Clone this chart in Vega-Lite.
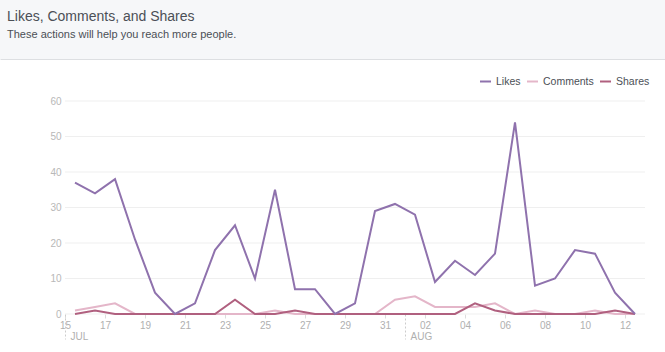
{
  "$schema": "https://vega.github.io/schema/vega-lite/v6.json",
  "padding": 0,
  "background": "white",
  "spacing": 37,
  "bounds": "full",
  "config": {"font": "Liberation Sans", "view": {"stroke": null}},
  "vconcat": [
    {
      "width": 665,
      "height": 59,
      "view": {"fill": "#f6f7f9", "stroke": null},
      "title": {
        "text": "Likes, Comments, and Shares",
        "subtitle": "These actions will help you reach more people.",
        "anchor": "start",
        "frame": "group",
        "orient": "top",
        "offset": -40,
        "dx": 7,
        "font": "Liberation Sans",
        "fontSize": 14,
        "fontWeight": "normal",
        "color": "#4b4f56",
        "subtitleFont": "Liberation Sans",
        "subtitleFontSize": 11,
        "subtitleColor": "#4b4f56",
        "subtitlePadding": 5
      },
      "data": {"values": [{"t": 0}]},
      "mark": {"type": "point", "opacity": 0},
      "encoding": {
        "x": {
          "field": "t",
          "type": "quantitative",
          "axis": {"labels": false, "ticks": false, "grid": false, "title": null, "domain": true, "domainColor": "#dddfe2", "domainWidth": 1}
        }
      }
    },
    {
      "width": 665,
      "height": 213,
      "data": {
        "values": [
          {"date": "2014-07-15T12:00:00Z", "metric": "Comments", "value": 1},
          {"date": "2014-07-16T12:00:00Z", "metric": "Comments", "value": 2},
          {"date": "2014-07-17T12:00:00Z", "metric": "Comments", "value": 3},
          {"date": "2014-07-18T12:00:00Z", "metric": "Comments", "value": 0},
          {"date": "2014-07-19T12:00:00Z", "metric": "Comments", "value": 0},
          {"date": "2014-07-20T12:00:00Z", "metric": "Comments", "value": 0},
          {"date": "2014-07-21T12:00:00Z", "metric": "Comments", "value": 0},
          {"date": "2014-07-22T12:00:00Z", "metric": "Comments", "value": 0},
          {"date": "2014-07-23T12:00:00Z", "metric": "Comments", "value": 0},
          {"date": "2014-07-24T12:00:00Z", "metric": "Comments", "value": 0},
          {"date": "2014-07-25T12:00:00Z", "metric": "Comments", "value": 1},
          {"date": "2014-07-26T12:00:00Z", "metric": "Comments", "value": 0},
          {"date": "2014-07-27T12:00:00Z", "metric": "Comments", "value": 0},
          {"date": "2014-07-28T12:00:00Z", "metric": "Comments", "value": 0},
          {"date": "2014-07-29T12:00:00Z", "metric": "Comments", "value": 0},
          {"date": "2014-07-30T12:00:00Z", "metric": "Comments", "value": 0},
          {"date": "2014-07-31T12:00:00Z", "metric": "Comments", "value": 4},
          {"date": "2014-08-01T12:00:00Z", "metric": "Comments", "value": 5},
          {"date": "2014-08-02T12:00:00Z", "metric": "Comments", "value": 2},
          {"date": "2014-08-03T12:00:00Z", "metric": "Comments", "value": 2},
          {"date": "2014-08-04T12:00:00Z", "metric": "Comments", "value": 2},
          {"date": "2014-08-05T12:00:00Z", "metric": "Comments", "value": 3},
          {"date": "2014-08-06T12:00:00Z", "metric": "Comments", "value": 0},
          {"date": "2014-08-07T12:00:00Z", "metric": "Comments", "value": 1},
          {"date": "2014-08-08T12:00:00Z", "metric": "Comments", "value": 0},
          {"date": "2014-08-09T12:00:00Z", "metric": "Comments", "value": 0},
          {"date": "2014-08-10T12:00:00Z", "metric": "Comments", "value": 1},
          {"date": "2014-08-11T12:00:00Z", "metric": "Comments", "value": 0},
          {"date": "2014-08-12T12:00:00Z", "metric": "Comments", "value": 0},
          {"date": "2014-07-15T12:00:00Z", "metric": "Shares", "value": 0},
          {"date": "2014-07-16T12:00:00Z", "metric": "Shares", "value": 1},
          {"date": "2014-07-17T12:00:00Z", "metric": "Shares", "value": 0},
          {"date": "2014-07-18T12:00:00Z", "metric": "Shares", "value": 0},
          {"date": "2014-07-19T12:00:00Z", "metric": "Shares", "value": 0},
          {"date": "2014-07-20T12:00:00Z", "metric": "Shares", "value": 0},
          {"date": "2014-07-21T12:00:00Z", "metric": "Shares", "value": 0},
          {"date": "2014-07-22T12:00:00Z", "metric": "Shares", "value": 0},
          {"date": "2014-07-23T12:00:00Z", "metric": "Shares", "value": 4},
          {"date": "2014-07-24T12:00:00Z", "metric": "Shares", "value": 0},
          {"date": "2014-07-25T12:00:00Z", "metric": "Shares", "value": 0},
          {"date": "2014-07-26T12:00:00Z", "metric": "Shares", "value": 1},
          {"date": "2014-07-27T12:00:00Z", "metric": "Shares", "value": 0},
          {"date": "2014-07-28T12:00:00Z", "metric": "Shares", "value": 0},
          {"date": "2014-07-29T12:00:00Z", "metric": "Shares", "value": 0},
          {"date": "2014-07-30T12:00:00Z", "metric": "Shares", "value": 0},
          {"date": "2014-07-31T12:00:00Z", "metric": "Shares", "value": 0},
          {"date": "2014-08-01T12:00:00Z", "metric": "Shares", "value": 0},
          {"date": "2014-08-02T12:00:00Z", "metric": "Shares", "value": 0},
          {"date": "2014-08-03T12:00:00Z", "metric": "Shares", "value": 0},
          {"date": "2014-08-04T12:00:00Z", "metric": "Shares", "value": 3},
          {"date": "2014-08-05T12:00:00Z", "metric": "Shares", "value": 1},
          {"date": "2014-08-06T12:00:00Z", "metric": "Shares", "value": 0},
          {"date": "2014-08-07T12:00:00Z", "metric": "Shares", "value": 0},
          {"date": "2014-08-08T12:00:00Z", "metric": "Shares", "value": 0},
          {"date": "2014-08-09T12:00:00Z", "metric": "Shares", "value": 0},
          {"date": "2014-08-10T12:00:00Z", "metric": "Shares", "value": 0},
          {"date": "2014-08-11T12:00:00Z", "metric": "Shares", "value": 1},
          {"date": "2014-08-12T12:00:00Z", "metric": "Shares", "value": 0},
          {"date": "2014-07-15T12:00:00Z", "metric": "Likes", "value": 37},
          {"date": "2014-07-16T12:00:00Z", "metric": "Likes", "value": 34},
          {"date": "2014-07-17T12:00:00Z", "metric": "Likes", "value": 38},
          {"date": "2014-07-18T12:00:00Z", "metric": "Likes", "value": 21},
          {"date": "2014-07-19T12:00:00Z", "metric": "Likes", "value": 6},
          {"date": "2014-07-20T12:00:00Z", "metric": "Likes", "value": 0},
          {"date": "2014-07-21T12:00:00Z", "metric": "Likes", "value": 3},
          {"date": "2014-07-22T12:00:00Z", "metric": "Likes", "value": 18},
          {"date": "2014-07-23T12:00:00Z", "metric": "Likes", "value": 25},
          {"date": "2014-07-24T12:00:00Z", "metric": "Likes", "value": 10},
          {"date": "2014-07-25T12:00:00Z", "metric": "Likes", "value": 35},
          {"date": "2014-07-26T12:00:00Z", "metric": "Likes", "value": 7},
          {"date": "2014-07-27T12:00:00Z", "metric": "Likes", "value": 7},
          {"date": "2014-07-28T12:00:00Z", "metric": "Likes", "value": 0},
          {"date": "2014-07-29T12:00:00Z", "metric": "Likes", "value": 3},
          {"date": "2014-07-30T12:00:00Z", "metric": "Likes", "value": 29},
          {"date": "2014-07-31T12:00:00Z", "metric": "Likes", "value": 31},
          {"date": "2014-08-01T12:00:00Z", "metric": "Likes", "value": 28},
          {"date": "2014-08-02T12:00:00Z", "metric": "Likes", "value": 9},
          {"date": "2014-08-03T12:00:00Z", "metric": "Likes", "value": 15},
          {"date": "2014-08-04T12:00:00Z", "metric": "Likes", "value": 11},
          {"date": "2014-08-05T12:00:00Z", "metric": "Likes", "value": 17},
          {"date": "2014-08-06T12:00:00Z", "metric": "Likes", "value": 54},
          {"date": "2014-08-07T12:00:00Z", "metric": "Likes", "value": 8},
          {"date": "2014-08-08T12:00:00Z", "metric": "Likes", "value": 10},
          {"date": "2014-08-09T12:00:00Z", "metric": "Likes", "value": 18},
          {"date": "2014-08-10T12:00:00Z", "metric": "Likes", "value": 17},
          {"date": "2014-08-11T12:00:00Z", "metric": "Likes", "value": 6},
          {"date": "2014-08-12T12:00:00Z", "metric": "Likes", "value": 0}
        ]
      },
      "layer": [
        {
          "data": {"values": [{"g": 0}, {"g": 10}, {"g": 20}, {"g": 30}, {"g": 40}, {"g": 50}, {"g": 60}]},
          "mark": {"type": "rule", "color": "#efefef", "strokeWidth": 1},
          "encoding": {
            "x": {"datum": {"year": 2014, "month": 7, "date": 15, "utc": true}, "type": "temporal", "axis": null},
            "x2": {"datum": {"year": 2014, "month": 8, "date": 13, "utc": true}},
            "y": {
              "field": "g",
              "type": "quantitative",
              "scale": {"domain": [0, 60], "nice": false},
              "axis": {
                "title": null,
                "values": [0, 10, 20, 30, 40, 50, 60],
                "tickCount": 7,
                "grid": false,
                "domain": false,
                "ticks": false,
                "offset": -65,
                "labelOverlap": false,
                "labelColor": "#b8b8b8",
                "labelFontSize": 10,
                "labelPadding": 4
              }
            }
          }
        },
        {
          "mark": {"type": "line", "strokeWidth": 2, "interpolate": "linear"},
          "encoding": {
            "x": {
              "field": "date",
              "type": "temporal",
              "scale": {
                "type": "utc",
                "domain": [
                  {"year": 2014, "month": 7, "date": 15, "utc": true},
                  {"year": 2014, "month": 8, "date": 13, "utc": true}
                ],
                "range": [65, 645],
                "nice": false
              },
              "axis": {
                "orient": "bottom",
                "title": null,
                "values": [
                  {"year": 2014, "month": 7, "date": 15, "utc": true},
                  {"year": 2014, "month": 7, "date": 17, "utc": true},
                  {"year": 2014, "month": 7, "date": 19, "utc": true},
                  {"year": 2014, "month": 7, "date": 21, "utc": true},
                  {"year": 2014, "month": 7, "date": 23, "utc": true},
                  {"year": 2014, "month": 7, "date": 25, "utc": true},
                  {"year": 2014, "month": 7, "date": 27, "utc": true},
                  {"year": 2014, "month": 7, "date": 29, "utc": true},
                  {"year": 2014, "month": 7, "date": 31, "utc": true},
                  {"year": 2014, "month": 8, "date": 2, "utc": true},
                  {"year": 2014, "month": 8, "date": 4, "utc": true},
                  {"year": 2014, "month": 8, "date": 6, "utc": true},
                  {"year": 2014, "month": 8, "date": 8, "utc": true},
                  {"year": 2014, "month": 8, "date": 10, "utc": true},
                  {"year": 2014, "month": 8, "date": 12, "utc": true}
                ],
                "labelExpr": "utcFormat(datum.value, '%d')",
                "labelFlush": false,
                "labelOverlap": false,
                "labelColor": "#b0b0b0",
                "labelFontSize": 10,
                "labelPadding": 2,
                "domain": false,
                "grid": false,
                "ticks": true,
                "tickSize": 4,
                "tickColor": "#dddddd"
              }
            },
            "y": {
              "field": "value",
              "type": "quantitative",
              "scale": {"domain": [0, 60], "nice": false},
              "axis": {
                "title": null,
                "values": [0, 10, 20, 30, 40, 50, 60],
                "tickCount": 7,
                "grid": false,
                "domain": false,
                "ticks": false,
                "offset": -65,
                "labelOverlap": false,
                "labelColor": "#b8b8b8",
                "labelFontSize": 10,
                "labelPadding": 4
              }
            },
            "color": {
              "field": "metric",
              "type": "nominal",
              "scale": {"domain": ["Likes", "Comments", "Shares"], "range": ["#8f72ad", "#e4b6c9", "#b0607f"]},
              "legend": {
                "orient": "none",
                "legendX": 479,
                "legendY": 75,
                "direction": "horizontal",
                "title": null,
                "symbolType": "stroke",
                "symbolStrokeWidth": 2,
                "symbolSize": 121,
                "labelFontSize": 10.5,
                "labelColor": "#4b4f56",
                "labelOffset": 4,
                "columnPadding": 2
              }
            }
          }
        },
        {
          "mark": {"type": "point", "opacity": 0},
          "encoding": {
            "x": {
              "field": "date",
              "type": "temporal",
              "axis": {
                "orient": "bottom",
                "title": null,
                "values": [
                  {"year": 2014, "month": 7, "date": 15, "utc": true},
                  {"year": 2014, "month": 8, "date": 1, "utc": true}
                ],
                "labelExpr": "upper(utcFormat(datum.value, '%b'))",
                "labelAlign": "left",
                "labelOffset": 5,
                "labelFlush": false,
                "labelOverlap": false,
                "labelColor": "#b0b0b0",
                "labelFontSize": 10,
                "labelPadding": -8,
                "domain": false,
                "grid": false,
                "ticks": true,
                "tickSize": 25,
                "tickDash": [2, 2],
                "tickColor": "#cccccc"
              }
            },
            "y": {
              "field": "value",
              "type": "quantitative",
              "axis": {
                "title": null,
                "values": [0, 10, 20, 30, 40, 50, 60],
                "tickCount": 7,
                "grid": false,
                "domain": false,
                "ticks": false,
                "offset": -65,
                "labelOverlap": false,
                "labelColor": "#b8b8b8",
                "labelFontSize": 10,
                "labelPadding": 4
              }
            }
          }
        }
      ],
      "resolve": {"axis": {"x": "independent"}}
    }
  ]
}
